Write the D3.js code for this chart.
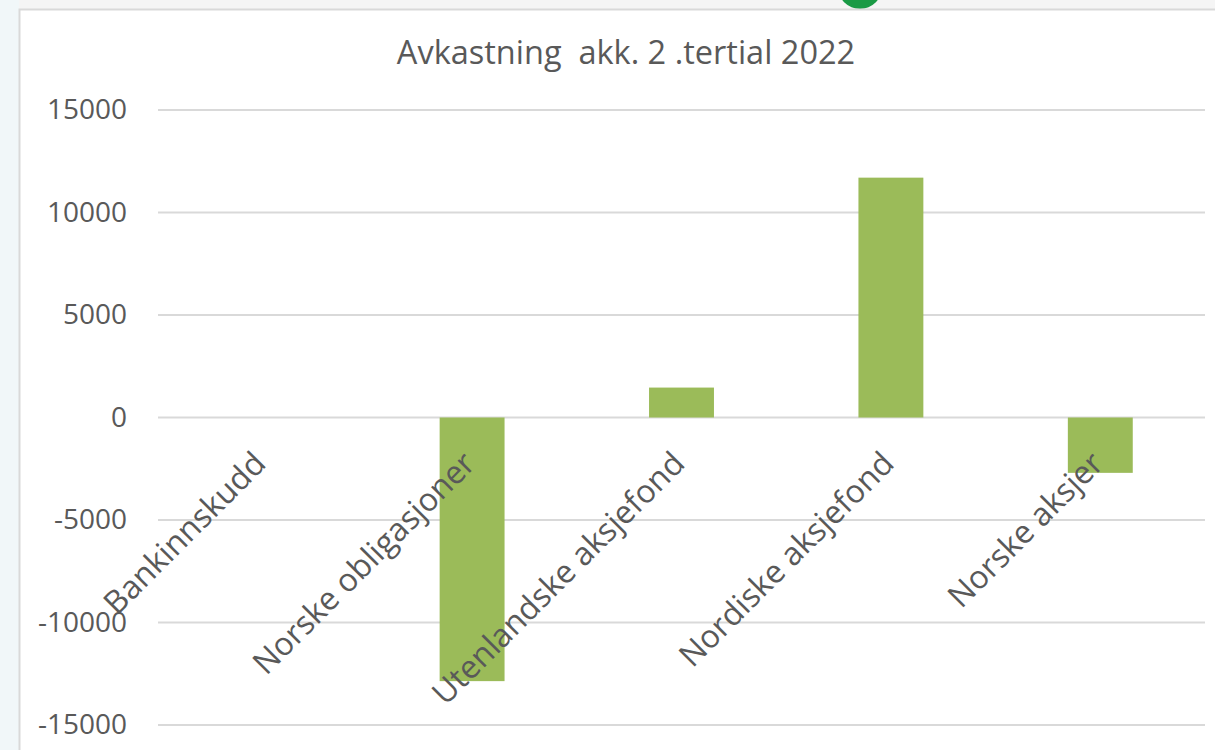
<!DOCTYPE html>
<html>
<head>
<meta charset="utf-8">
<script src="https://cdn.jsdelivr.net/npm/d3@7"></script>
<style>
  body { margin: 0; background: #f4f6f7; overflow: hidden; }
  svg { display: block; }
</style>
</head>
<body>
<div id="chart"></div>
<script>
const categories = ["Bankinnskudd", "Norske obligasjoner", "Utenlandske aksjefond", "Nordiske aksjefond", "Norske aksjer"];
const values = [0, -12860, 1460, 11700, -2700];
const yTicks = [-15000, -10000, -5000, 0, 5000, 10000, 15000];
const title = "Avkastning\u00a0 akk. 2 .tertial 2022";

const width = 1215, height = 750;
const margin = { left: 158, right: 10, top: 110, bottom: 25 };
const font = "'Open Sans', sans-serif";
const textColor = "#595959";

const svg = d3.select("#chart").append("svg")
  .attr("width", width)
  .attr("height", height);

// page background strips and the chart frame
svg.append("rect").attr("x", 0).attr("y", 0).attr("width", 19).attr("height", height).attr("fill", "#f1f7f9");
svg.append("rect").attr("x", 19).attr("y", 0).attr("width", width).attr("height", 9).attr("fill", "#f5f5f5");
svg.append("circle").attr("cx", 860).attr("cy", -13).attr("r", 22).attr("fill", "#1a9a45");
svg.append("rect").attr("x", 19.5).attr("y", 9.5).attr("width", width).attr("height", height)
  .attr("fill", "#fff").attr("stroke", "#d9d9d9").attr("stroke-width", 2);

const x = d3.scaleBand()
  .domain(categories)
  .range([margin.left, width - margin.right])
  .paddingInner(0.69)
  .paddingOuter(0.345);

const y = d3.scaleLinear()
  .domain([-15000, 15000])
  .range([725, 110]);

// gridlines
svg.append("g")
  .selectAll("line")
  .data(yTicks)
  .join("line")
  .attr("x1", margin.left)
  .attr("x2", width - margin.right)
  .attr("y1", d => y(d))
  .attr("y2", d => y(d))
  .attr("stroke", "#d9d9d9")
  .attr("stroke-width", 2);

// y axis labels (plain hyphen for negatives, like the original)
const yAxis = svg.append("g")
  .attr("transform", `translate(${margin.left - 31},0)`)
  .call(d3.axisLeft(y).tickValues(yTicks).tickSize(0).tickPadding(0).tickFormat(d => String(d)));
yAxis.select(".domain").remove();
yAxis.selectAll("text")
  .attr("font-family", font)
  .attr("font-size", "28px")
  .attr("fill", textColor);

// bars
svg.append("g")
  .selectAll("rect")
  .data(values)
  .join("rect")
  .attr("x", (d, i) => x(categories[i]))
  .attr("width", x.bandwidth())
  .attr("y", d => y(Math.max(0, d)))
  .attr("height", d => Math.abs(y(d) - y(0)))
  .attr("fill", "#9bbb59");

// rotated category labels
svg.append("g")
  .selectAll("text")
  .data(categories)
  .join("text")
  .attr("transform", d => `translate(${x(d) + x.bandwidth() / 2 + 5},${y(0) + 48}) rotate(-45)`)
  .attr("text-anchor", "end")
  .attr("font-family", font)
  .attr("font-size", "32px")
  .attr("fill", textColor)
  .text(d => d);

// title
svg.append("text")
  .attr("x", 626)
  .attr("y", 64)
  .attr("text-anchor", "middle")
  .attr("font-family", font)
  .attr("font-size", "32.5px")
  .attr("fill", textColor)
  .text(title);
</script>
</body>
</html>
